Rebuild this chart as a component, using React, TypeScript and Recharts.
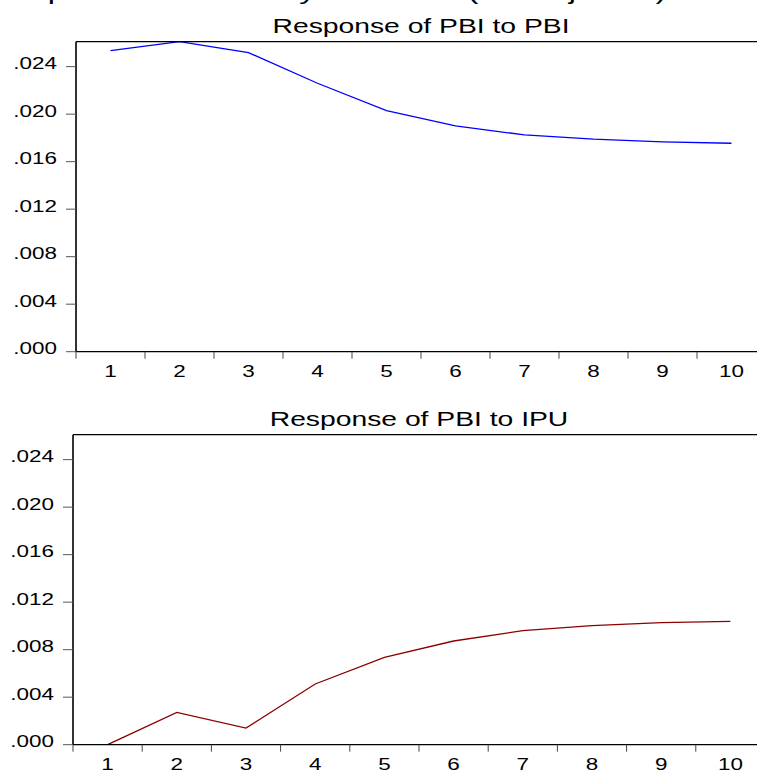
import React from "react";
import { LineChart, Line, XAxis, YAxis } from "recharts";

const periods = [1, 2, 3, 4, 5, 6, 7, 8, 9, 10];
const pbiToPbi = [0.02535, 0.0261, 0.02518, 0.0226, 0.02029, 0.01901, 0.01825, 0.01789, 0.01766, 0.01755];
const pbiToIpu = [0.0, 0.00272, 0.0014, 0.00511, 0.00735, 0.00873, 0.0096, 0.01002, 0.01027, 0.01038];
const yTicks = [0, 0.004, 0.008, 0.012, 0.016, 0.02, 0.024];
const labelTicks = [1, 2, 3, 4, 5, 6, 7, 8, 9, 10];
const boundTicks = [0.5, 1.5, 2.5, 3.5, 4.5, 5.5, 6.5, 7.5, 8.5, 9.5, 10.5];
const mainTitle = "Response to Cholesky One S.D. (d.f. adjusted) Innovations";
const title1 = "Response of PBI to PBI";
const title2 = "Response of PBI to IPU";

const FONT = "'Liberation Sans', Arial, sans-serif";
const yMax = Math.max(...pbiToPbi, ...pbiToIpu);
const xDomain: [number, number] = [0.5, 10.5];

const fmt = (v: number) => v.toFixed(3).replace(/^0/, "");

const YTick = (props: any) => {
  const { x, y, payload } = props;
  return (
    <text
      transform={`translate(${x},${y + 2.7}) scale(1.32,1)`}
      textAnchor="end"
      fontSize={17}
      fontFamily={FONT}
      fill="#000"
    >
      {fmt(payload.value)}
    </text>
  );
};

const XTick = (props: any) => {
  const { x, y, payload } = props;
  return (
    <text
      transform={`translate(${x},${y + 24.3}) scale(1.32,1)`}
      textAnchor="middle"
      fontSize={17}
      fontFamily={FONT}
      fill="#000"
    >
      {payload.value}
    </text>
  );
};

const NoTick = () => <g />;

type PanelProps = {
  top: number;
  yAxisWidth: number;
  rightMargin: number;
  values: number[];
  color: string;
};

const Panel = ({ top, yAxisWidth, rightMargin, values, color }: PanelProps) => {
  const data = periods.map((p, i) => ({ period: p, value: values[i] }));
  return (
    <div style={{ position: "absolute", left: 0, top }}>
      <LineChart
        width={770}
        height={382.7}
        data={data}
        margin={{ top: 40.7, right: rightMargin, bottom: 0, left: 0 }}
      >
        <XAxis
          xAxisId="bounds"
          type="number"
          dataKey="period"
          domain={xDomain}
          ticks={boundTicks}
          height={1}
          tick={<NoTick />}
          tickSize={7}
          tickLine={{ stroke: "#444", strokeWidth: 1 }}
          axisLine={{ stroke: "#000", strokeWidth: 1.3 }}
          interval={0}
          allowDataOverflow
        />
        <XAxis
          xAxisId="lbl"
          type="number"
          dataKey="period"
          domain={xDomain}
          ticks={labelTicks}
          height={30}
          tickSize={0}
          tickMargin={0}
          tickLine={false}
          axisLine={false}
          tick={<XTick />}
          interval={0}
          allowDataOverflow
        />
        <XAxis
          xAxisId="top"
          orientation="top"
          type="number"
          dataKey="period"
          domain={xDomain}
          ticks={boundTicks}
          height={1}
          tick={<NoTick />}
          tickLine={false}
          axisLine={{ stroke: "#000", strokeWidth: 1.3 }}
          allowDataOverflow
        />
        <YAxis
          type="number"
          domain={[0, yMax]}
          ticks={yTicks}
          width={yAxisWidth}
          tickSize={10}
          tickMargin={9}
          tickLine={{ stroke: "#555", strokeWidth: 1 }}
          axisLine={{ stroke: "#000", strokeWidth: 1.6 }}
          tick={<YTick />}
          interval={0}
          allowDataOverflow
        />
        <Line
          xAxisId="lbl"
          type="linear"
          dataKey="value"
          stroke={color}
          strokeWidth={1.3}
          dot={false}
          activeDot={false}
          isAnimationActive={false}
        />
      </LineChart>
    </div>
  );
};

export default function App() {
  return (
    <div
      style={{
        position: "absolute",
        left: 0,
        top: 0,
        width: 757,
        height: 772,
        overflow: "hidden",
        background: "#fff",
      }}
    >
      <Panel top={0} yAxisWidth={76} rightMargin={4} values={pbiToPbi} color="#0000ff" />
      <Panel top={393.3} yAxisWidth={73} rightMargin={5} values={pbiToIpu} color="#8b0000" />
      <svg
        width={757}
        height={772}
        style={{ position: "absolute", left: 0, top: 0, pointerEvents: "none" }}
      >
        <text
          transform="translate(-10,-1.5) scale(1.48,1)"
          fontSize={22}
          fontFamily={FONT}
          fill="#000"
        >
          {mainTitle}
        </text>
        <text
          transform="translate(421,33) scale(1.38,1)"
          textAnchor="middle"
          fontSize={20.5}
          fontFamily={FONT}
          fill="#000"
        >
          {title1}
        </text>
        <text
          transform="translate(419,425.5) scale(1.38,1)"
          textAnchor="middle"
          fontSize={20.5}
          fontFamily={FONT}
          fill="#000"
        >
          {title2}
        </text>
      </svg>
    </div>
  );
}
